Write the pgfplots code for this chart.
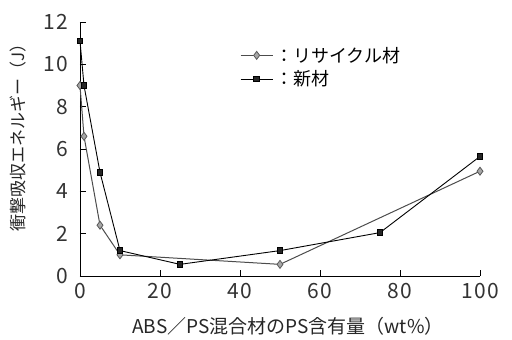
\documentclass[border=0pt]{standalone}
\usepackage{pgfplots}
\pgfplotsset{compat=1.18}
\usepackage{fontspec}
\setmainfont{Noto Sans CJK JP}
\begin{document}
\begin{tikzpicture}[x=1pt,y=1pt]
\useasboundingbox (-80,-64) rectangle (432,276);
\begin{axis}[
  at={(0,0)}, anchor=south west,
  scale only axis, width=400pt, height=254pt,
  xmin=0, xmax=100, ymin=0, ymax=12,
  axis x line=bottom, axis y line=left,
  axis line style={-, line width=0.8pt},
  tick align=inside, major tick length=6pt,
  tick style={line width=0.8pt, black},
  xtick={0,20,40,60,80,100}, ytick={0,2,4,6,8,10,12},
  /pgf/number format/assume math mode=true,
  ticklabel style={font=\fontsize{21}{24}\selectfont\addfontfeatures{LetterSpace=6}, black!80},
  xticklabel style={yshift=-4pt},
  yticklabel style={xshift=-8pt},
  xlabel={ABS／PS混合材のPS含有量（wt\%）},
  xlabel style={font=\fontsize{19}{22}\selectfont, black!85, at={(axis description cs:0.52,0)}, anchor=north, yshift=-38pt},
  ylabel={衝撃吸収エネルギー（J）},
  ylabel style={font=\fontsize{17}{20}\selectfont, black!85, at={(axis description cs:0,0.56)}, anchor=south, yshift=50pt},
  legend style={draw=none, fill=none, at={(axis description cs:0.40,0.91)}, anchor=north west,
    font=\fontsize{18}{21}\selectfont, row sep=3pt, inner sep=0pt},
  legend cell align=left,
  legend image code/.code={\draw[mark repeat=2,mark phase=2] plot coordinates {(0pt,0pt)(16pt,0pt)(32pt,0pt)};},
]
\addplot[black!70, line width=1pt, mark=diamond*, mark size=4pt, mark options={fill=black!35, draw=black!65, line width=0.8pt}]
  coordinates {(0,9.0) (1,6.6) (5,2.4) (10,1.0) (50,0.55) (100,4.95)};
\addlegendentry{：リサイクル材}
\addplot[black, line width=0.9pt, mark=square*, mark size=2.8pt, mark options={fill=black!85, draw=black}]
  coordinates {(0,11.1) (1,9.0) (5,4.9) (10,1.2) (25,0.55) (50,1.2) (75,2.05) (100,5.65)};
\addlegendentry{：新材}
\end{axis}
\end{tikzpicture}
\end{document}
